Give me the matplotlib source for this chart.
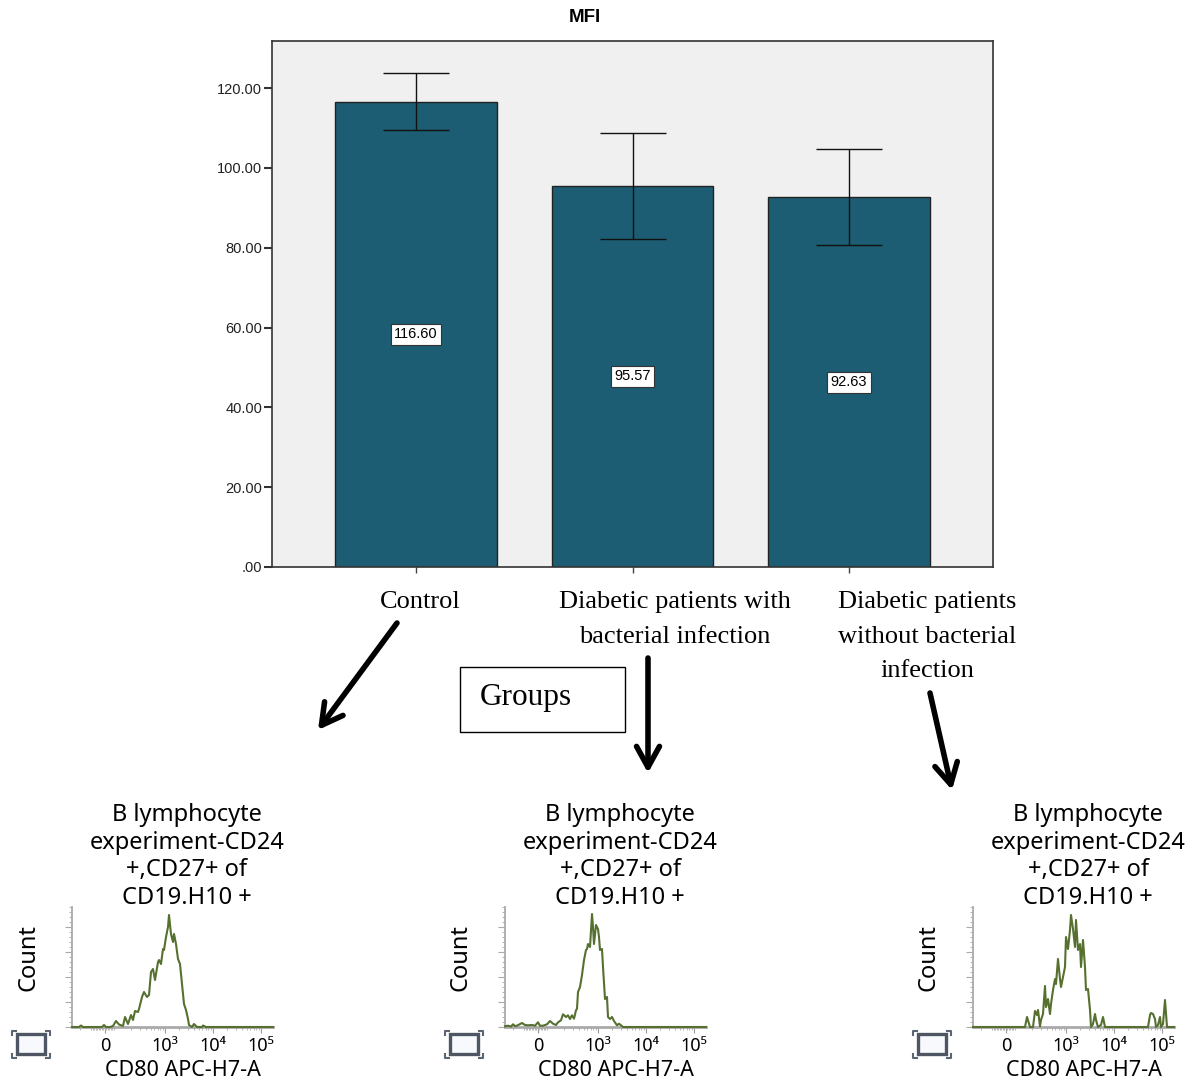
import matplotlib
matplotlib.use('Agg')
import matplotlib.pyplot as plt
import matplotlib.patches as mpatches
from matplotlib.lines import Line2D
from matplotlib.ticker import FuncFormatter, MultipleLocator
import numpy as np

W, H = 1190, 1082

# bar chart data
groups = ['Control', 'Diabetic patients with\nbacterial infection',
          'Diabetic patients\nwithout bacterial\ninfection']
mfi_mean = [116.60, 95.57, 92.63]
mfi_err = [7.2, 13.3, 12.0]
y_ticks = [0, 20, 40, 60, 80, 100, 120]

# flow histograms: display channel vs count
ctrl_x = [0, 7, 9, 11, 30, 32, 34, 38, 41, 44, 47, 51, 53, 56, 59, 61, 63, 66, 67, 70,
          72, 75, 77, 79, 81, 83, 86, 87, 89, 91, 92, 94, 96, 97, 99, 101, 102, 104, 106, 108,
          110, 112, 114, 116, 117, 120, 122, 125, 130, 131, 134, 201]
ctrl_y = [0, 0, 1.5, 0, 0, 2, 0, 0, 1, 6, 2.5, 1, 10, 3, 12, 7, 16, 15, 18, 30,
          35, 30, 32, 55, 58, 47, 65, 67, 63, 78, 77, 90, 100, 112, 93, 85, 93, 83, 68, 63,
          43, 23, 17, 8, 2, 0, 3, 0, 0, 1.5, 0, 0]

inf_x = [0, 3, 6, 8, 10, 12, 17, 20, 23, 27, 30, 33, 35, 38, 42, 45, 48, 51, 53, 56,
         58, 61, 63, 65, 67, 69, 71, 72, 73, 75, 77, 79, 81, 82, 83, 85, 87, 88, 89, 91,
         93, 94, 95, 97, 98, 100, 102, 103, 105, 107, 109, 112, 114, 116, 118, 201]
inf_y = [0.7, 1.3, 0.5, 2.7, 1, 1.3, 4, 2, 1.7, 2, 1.3, 4.7, 1.3, 1.3, 2.7, 6, 3.3, 2, 4.7, 6.7,
         12.7, 10, 11.7, 8, 11.7, 8.3, 16.7, 18.3, 35, 40, 52, 67, 77, 78, 83, 80, 113, 100, 83, 102,
         98, 90, 77, 78, 60, 28, 30, 10, 8, 10, 6, 1.7, 3.3, 1.7, 0, 0]

noinf_x = [0, 52, 54, 57, 60, 62, 64, 65, 67, 68, 70, 72, 73, 75, 77, 78, 80, 82, 83, 85,
           87, 88, 90, 92, 93, 95, 97, 98, 100, 102, 103, 105, 107, 108, 110, 112, 113, 115, 117, 118,
           120, 122, 123, 125, 128, 130, 132, 175, 177, 178, 180, 182, 183, 185, 187, 188, 190, 192, 194, 201]
noinf_y = [0, 0, 10, 0, 0, 16, 12, 17, 0.7, 7, 13, 41, 20, 28, 13, 23, 37, 48, 43, 68,
           48, 40, 50, 60, 90, 78, 97, 112, 98, 80, 107, 77, 83, 60, 87, 60, 37, 38, 17, 0,
           3, 13, 7, 0, 2, 10, 0, 0, 12, 14, 13, 8, 0, 2, 10, 0, 3, 27, 0, 0]

hist_ticks = [33, 93, 141, 189]
hist_ticklabels = ['0', '10\u00b3', '10\u2074', '10\u2075']


def fx(px):
    return px / W


def fy(py):
    return 1 - py / H


def box(l, t, r, b):
    return [fx(l), fy(b), (r - l) / W, (b - t) / H]


fig = plt.figure(figsize=(W / 100, H / 100), dpi=100, facecolor='white')

# ---- bar chart ----
ax = fig.add_axes(box(272, 41, 993, 567))
ax.set_facecolor('#f0f0f0')
x = np.arange(len(mfi_mean))
ax.bar(x, mfi_mean, width=0.748, color='#1d5d73', edgecolor='#222222', linewidth=1, zorder=2)
ax.errorbar(x, mfi_mean, yerr=mfi_err, fmt='none', ecolor='#111111', elinewidth=1,
            capsize=24, capthick=1, zorder=3)
for i, v in enumerate(mfi_mean):
    ax.text(i, v / 2, f'{v:.2f}', ha='center', va='center', fontsize=10.5,
            family='Liberation Sans', zorder=4,
            bbox=dict(boxstyle='square,pad=0.25', fc='white', ec='#333333', lw=0.8))
ax.set_xlim(-0.665, 2.665)
ax.set_ylim(0, 131.8)
ax.set_yticks(y_ticks)
ax.yaxis.set_major_formatter(FuncFormatter(lambda v, p: '.00' if v == 0 else f'{v:.2f}'))
for lab in ax.get_yticklabels():
    lab.set_family('Liberation Sans')
ax.tick_params(axis='y', length=6, width=1.5, color='#333333', labelsize=10.5, pad=1,
               labelcolor='#222222')
ax.set_xticks(x)
ax.set_xticklabels([])
ax.tick_params(axis='x', length=4, width=1, color='#444444')
for s in ax.spines.values():
    s.set_color('#333333')
    s.set_linewidth(1.2)

fig.text(fx(585), fy(18), 'MFI', ha='center', va='center', fontsize=13.5,
         fontweight='bold', family='Liberation Sans')

# category labels, placed by hand under the chart
for cx, g in zip([420, 675, 927], groups):
    fig.text(fx(cx), fy(591), g, ha='center', va='top', fontsize=19,
             family='Liberation Serif', linespacing=1.74)

fig.patches.append(mpatches.Rectangle((fx(460), fy(732)), 165 / W, 65 / H,
                                      transform=fig.transFigure, fill=False,
                                      ec='black', lw=1))
fig.text(fx(480), fy(697), 'Groups', ha='left', va='center', fontsize=22.5,
         family='Liberation Serif')

for x0, y0, x1, y1 in [(397, 623, 318, 730), (648, 658, 648, 773), (930, 693, 952, 790)]:
    fig.patches.append(mpatches.FancyArrowPatch(
        (fx(x0), fy(y0)), (fx(x1), fy(y1)), transform=fig.transFigure,
        arrowstyle='->,head_length=1.0,head_width=0.55', mutation_scale=15,
        lw=4, color='black', shrinkA=0, shrinkB=0))

# ---- flow histograms ----
minor_x = list(np.arange(19, 43, 1.5)) + [8]
for n in range(3):
    for k in range(2, 10):
        minor_x.append(hist_ticks[1] + 48 * (np.log10(k) + n - 1))

title = 'B lymphocyte\nexperiment-CD24\n+,CD27+ of\nCD19.H10 +'
for L, hx, hy in [(72, ctrl_x, ctrl_y), (505, inf_x, inf_y), (973, noinf_x, noinf_y)]:
    h = fig.add_axes(box(L, 907, L + 201, 1027))
    h.plot(hx, hy, color='#55702f', lw=1.5, zorder=3, clip_on=False)
    h.set_xlim(0, 201)
    h.set_ylim(0, 120)
    h.spines['top'].set_visible(False)
    h.spines['right'].set_visible(False)
    h.spines['left'].set_color('#aaaaaa')
    h.spines['left'].set_linewidth(1.3)
    h.spines['bottom'].set_color('#aaaaaa')
    h.spines['bottom'].set_linewidth(2)
    h.yaxis.set_major_locator(MultipleLocator(25))
    h.yaxis.set_minor_locator(MultipleLocator(5))
    h.tick_params(axis='y', which='major', length=5, color='#aaaaaa', labelleft=False)
    h.tick_params(axis='y', which='minor', length=2.5, color='#aaaaaa')
    h.set_xticks(hist_ticks)
    h.set_xticklabels(hist_ticklabels, fontsize=13, family='Noto Sans')
    h.set_xticks(minor_x, minor=True)
    h.tick_params(axis='x', which='major', length=4, color='#999999', pad=3)
    h.tick_params(axis='x', which='minor', length=2.5, color='#aaaaaa')

    fig.text(fx(L + 115), fy(910), title, ha='center', va='bottom', fontsize=17,
             family='Noto Sans', linespacing=1.2)
    fig.text(fx(L - 44), fy(958), 'Count', ha='center', va='center', rotation=90,
             fontsize=17, family='Noto Sans')
    fig.text(fx(L + 111), fy(1070), 'CD80 APC-H7-A', ha='center', va='center',
             fontsize=15.5, family='Noto Sans')

    # little gate icon
    fig.patches.append(mpatches.Rectangle((fx(L - 55), fy(1054)), 27.5 / W, 20 / H,
                                          transform=fig.transFigure, fc='#f7f9fc',
                                          ec='#4e5663', lw=2.4))
    for cxp, cyp, dx, dy in [(L - 60, 1031, 1, 1), (L - 22, 1031, -1, 1),
                             (L - 60, 1058, 1, -1), (L - 22, 1058, -1, -1)]:
        fig.lines.append(Line2D([fx(cxp), fx(cxp), fx(cxp + 4 * dx)],
                                [fy(cyp + 4 * dy), fy(cyp), fy(cyp)],
                                transform=fig.transFigure, color='#5b6472', lw=1.5))

fig.savefig('out.png', dpi=100)
